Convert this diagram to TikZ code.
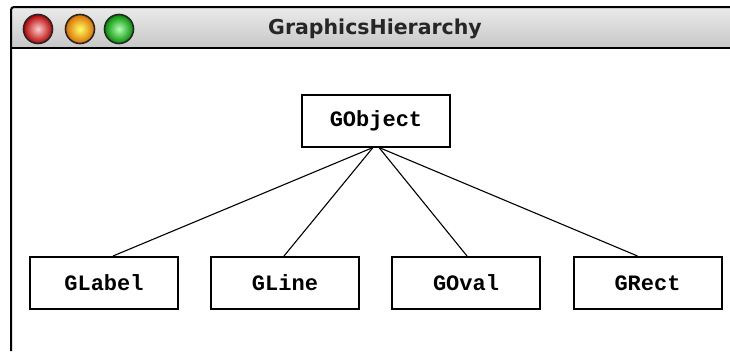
\documentclass[tikz,border=0pt]{standalone}
\usepackage{fontspec}
\newfontfamily\clsfont{Liberation Mono}
\newfontfamily\winfont{DejaVu Sans}
\begin{document}
\begin{tikzpicture}[x=1pt, y=-1pt,
    cls/.style={draw, line width=2pt, minimum width=148pt, minimum height=52pt, inner sep=0pt,
                font=\clsfont\bfseries\fontsize{22}{22}\selectfont},
    btn/.style={draw=black!85, line width=1.6pt},
    link/.style={line width=1.1pt}]
\useasboundingbox (0,0) rectangle (730,351);
\fill [white] (0,0) rectangle (730,351);
\shade [top color=black!8, bottom color=black!22] (11,7) rectangle (730,48);
\draw [line width=2pt, rounded corners=3pt] (11,351)--(11,7)--(731,7);
\draw [line width=2pt] (11,48)--(731,48);
\shade [btn, inner color=red!20, outer color=red!70!black] (38,29) circle (14.5);
\shade [btn, inner color=yellow!60, outer color=orange!85!black] (80,29) circle (14.5);
\shade [btn, inner color=green!30!white, outer color=green!55!black] (119,29) circle (14.5);
\node [text=black!85, font=\winfont\bfseries\fontsize{20.5}{20.5}\selectfont] (title) at (375,29) {GraphicsHierarchy};
\node [cls] (gobject) at (376,120.5) {GObject};
\node [cls] (glabel) at (104,283) {GLabel};
\node [cls] (gline) at (285,283) {GLine};
\node [cls] (goval) at (466,283) {GOval};
\node [cls] (grect) at (647.5,283) {GRect};
\draw [link] ([xshift=-3pt]gobject.south)--([xshift=9pt]glabel.north);
\draw [link] ([xshift=-3pt]gobject.south)--([xshift=-1pt]gline.north);
\draw [link] ([xshift=3pt]gobject.south)--([xshift=1pt]goval.north);
\draw [link] ([xshift=3pt]gobject.south)--([xshift=-10pt]grect.north);
\end{tikzpicture}
\end{document}
